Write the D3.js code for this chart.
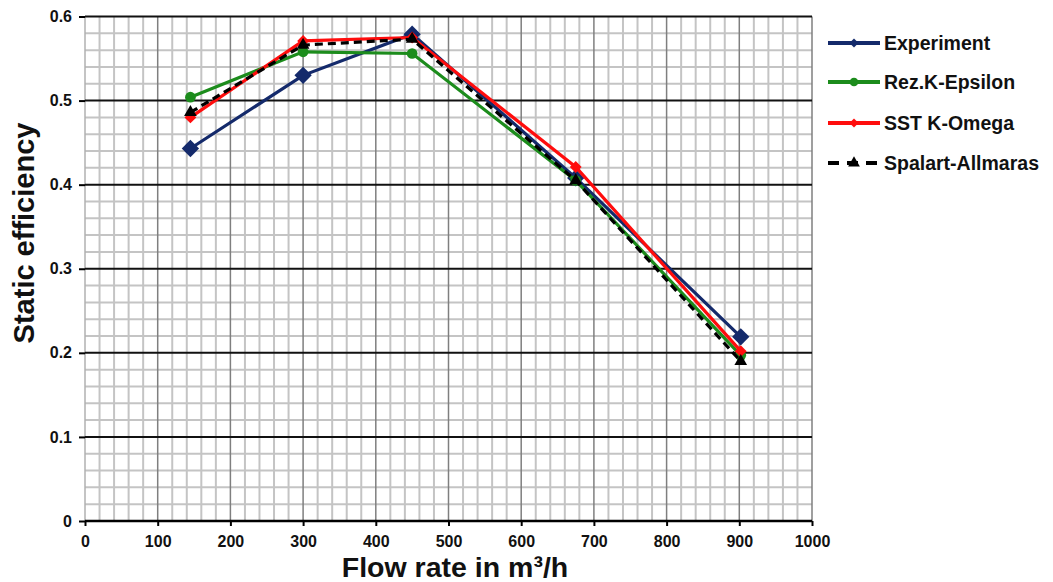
<!DOCTYPE html>
<html>
<head>
<meta charset="utf-8">
<script src="https://cdn.jsdelivr.net/npm/d3@7"></script>
<style>
  body { margin: 0; background: #fff; }
  svg text { font-family: "Liberation Sans", Arial, sans-serif; font-weight: bold; }
</style>
</head>
<body>
<script>
// flow rate points (m3/h) and efficiency per model
var flowRates = [145, 300, 450, 675, 902];
var experiment = [0.443, 0.530, 0.579, 0.408, 0.219];
var rezKEpsilon = [0.504, 0.558, 0.556, 0.405, 0.197];
var sstKOmega = [0.480, 0.571, 0.575, 0.421, 0.202];
var spalartAllmaras = [0.486, 0.566, 0.573, 0.405, 0.190];
var seriesNames = ["Experiment", "Rez.K-Epsilon", "SST K-Omega", "Spalart-Allmaras"];
var xTicks = [0, 100, 200, 300, 400, 500, 600, 700, 800, 900, 1000];
var yTicks = [0, 0.1, 0.2, 0.3, 0.4, 0.5, 0.6];

var width = 1053, height = 582;
var pLeft = 85, pRight = 812, pTop = 16.5, pBottom = 521;

var svg = d3.select("body").append("svg")
  .attr("width", width)
  .attr("height", height);

var x = d3.scaleLinear().domain([0, 1000]).range([pLeft, pRight]);
var y = d3.scaleLinear().domain([0, 0.6]).range([pBottom, pTop]);

// minor grid
var g = svg.append("g");
d3.range(0, 1001, 20).forEach(function(v) {
  if (v % 100 == 0) return;
  g.append("line").attr("x1", x(v)).attr("x2", x(v)).attr("y1", pTop).attr("y2", pBottom)
    .attr("stroke", "#c4c4c4").attr("stroke-width", 2);
});
d3.range(0, 31).forEach(function(i) {
  if (i % 5 == 0) return;
  var v = i * 0.02;
  g.append("line").attr("x1", pLeft).attr("x2", pRight).attr("y1", y(v)).attr("y2", y(v))
    .attr("stroke", "#c4c4c4").attr("stroke-width", 2);
});
// major grid
xTicks.forEach(function(v) {
  if (v == 0) return;
  g.append("line").attr("x1", x(v)).attr("x2", x(v)).attr("y1", pTop).attr("y2", pBottom)
    .attr("stroke", "#7f7f7f").attr("stroke-width", 1.5);
});
g.append("line").attr("x1", pLeft).attr("x2", pLeft).attr("y1", pTop).attr("y2", pBottom)
  .attr("stroke", "#b0b0b0").attr("stroke-width", 1.5);
yTicks.forEach(function(v) {
  if (v == 0) return;
  g.append("line").attr("x1", pLeft).attr("x2", pRight).attr("y1", y(v)).attr("y2", y(v))
    .attr("stroke", "#111").attr("stroke-width", 2);
});

// axes
var xAxis = d3.axisBottom(x).tickValues(xTicks).tickSize(5).tickFormat(d3.format("d"));
var yAxis = d3.axisLeft(y).tickValues(yTicks).tickSize(6).tickFormat(function(d) { return d == 0 ? "0" : d3.format(".1f")(d); });

var gx = svg.append("g").attr("transform", "translate(0," + pBottom + ")").call(xAxis);
gx.select(".domain").attr("stroke", "#000").attr("stroke-width", 2.5).attr("d", "M" + pLeft + ",0H" + pRight);
gx.selectAll(".tick line").attr("stroke", "#000").attr("stroke-width", 2);
gx.selectAll(".tick text").attr("font-size", 16).attr("fill", "#111").attr("dy", "1.1em");

var gy = svg.append("g").attr("transform", "translate(" + pLeft + ",0)").call(yAxis);
gy.select(".domain").remove();
gy.selectAll(".tick line").attr("stroke", "#000").attr("stroke-width", 2);
gy.selectAll(".tick text").attr("font-size", 16).attr("fill", "#111").attr("x", -13);

// axis titles
svg.append("text")
  .attr("x", 455).attr("y", 577)
  .attr("text-anchor", "middle")
  .attr("font-size", 28.5)
  .attr("fill", "#111")
  .text("Flow rate in m³/h");
svg.append("text")
  .attr("transform", "translate(34," + 233 + ") rotate(-90)")
  .attr("text-anchor", "middle")
  .attr("font-size", 29)
  .attr("fill", "#111")
  .text("Static efficiency");

var series = [
  { name: seriesNames[0], vals: experiment, color: "#142a6b", dash: null, marker: "diamond", size: 150 },
  { name: seriesNames[1], vals: rezKEpsilon, color: "#1c8c1c", dash: null, marker: "circle", size: 90 },
  { name: seriesNames[2], vals: sstKOmega, color: "#ff0d0d", dash: null, marker: "diamond", size: 70 },
  { name: seriesNames[3], vals: spalartAllmaras, color: "#000", dash: "8,5", marker: "triangle", size: 70 }
];

function symType(m) {
  if (m == "diamond") return d3.symbolSquare;
  if (m == "circle") return d3.symbolCircle;
  return d3.symbolTriangle;
}

var line = d3.line()
  .x(function(d, i) { return x(flowRates[i]); })
  .y(function(d) { return y(d); });

series.forEach(function(s) {
  svg.append("path")
    .attr("d", line(s.vals))
    .attr("fill", "none")
    .attr("stroke", s.color)
    .attr("stroke-width", 3.2)
    .attr("stroke-dasharray", s.dash);
  s.vals.forEach(function(v, i) {
    svg.append("path")
      .attr("d", d3.symbol().type(symType(s.marker)).size(s.size)())
      .attr("transform", "translate(" + x(flowRates[i]) + "," + y(v) + ")" + (s.marker == "diamond" ? " rotate(45)" : ""))
      .attr("fill", s.color);
  });
});

// legend
var legendY = [43, 82, 123, 163];
series.forEach(function(s, i) {
  var ly = legendY[i];
  svg.append("line")
    .attr("x1", 828).attr("x2", 880).attr("y1", ly).attr("y2", ly)
    .attr("stroke", s.color).attr("stroke-width", 4)
    .attr("stroke-dasharray", s.dash ? "11,8" : null);
  svg.append("path")
    .attr("d", d3.symbol().type(symType(s.marker)).size(s.marker == "diamond" ? 40 : 60)())
    .attr("transform", "translate(854," + ly + ")" + (s.marker == "diamond" ? " rotate(45)" : ""))
    .attr("fill", s.color);
  svg.append("text")
    .attr("x", 884).attr("y", ly + 7)
    .attr("font-size", 19.5)
    .attr("fill", "#111")
    .text(s.name);
});
</script>
</body>
</html>
